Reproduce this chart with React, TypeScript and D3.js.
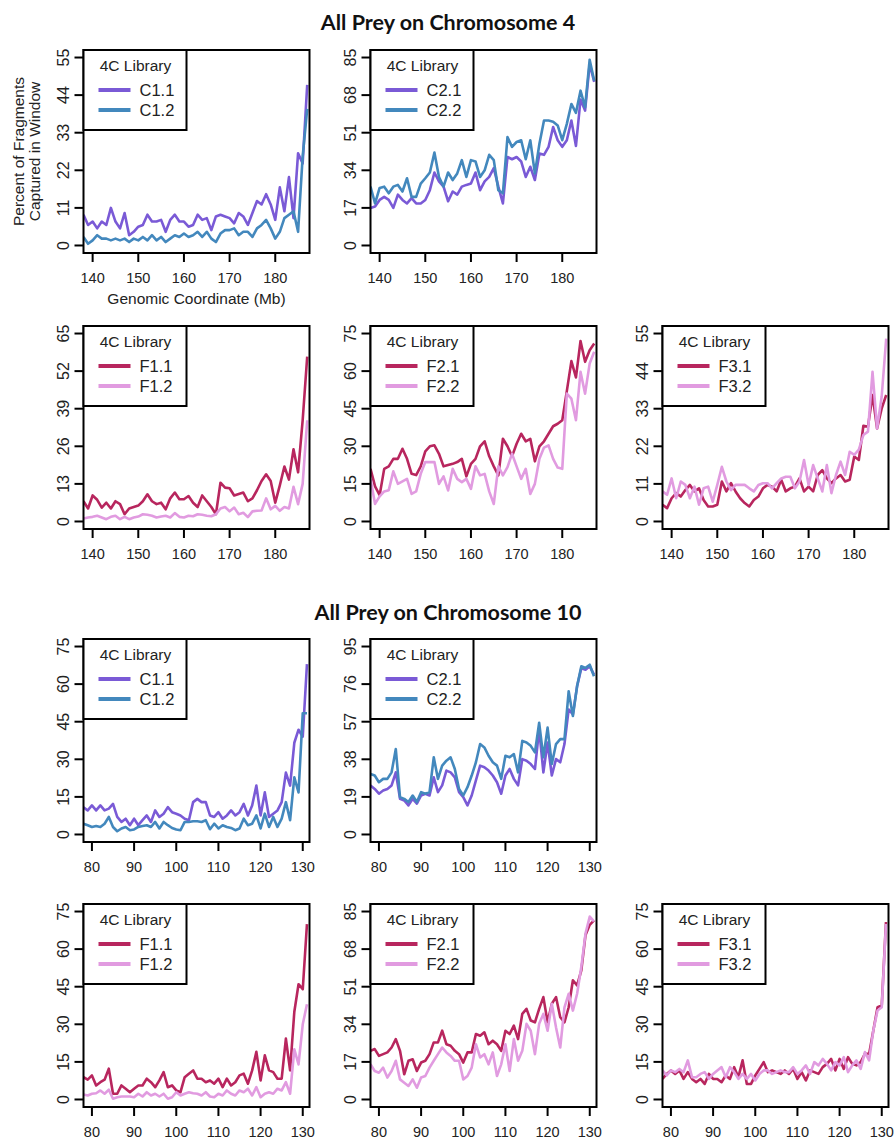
import * as d3 from 'd3'

// window positions (Mb) for each chromosome
const chr4Mb = d3.range(138, 188)
const chr10Mb = d3.range(78, 132)
const chr4Ticks = [140, 150, 160, 170, 180]
const chr10Ticks = [80, 90, 100, 110, 120, 130]

// chromosome 4, percent of fragments captured per window
const chr4C11 = [9, 6, 7, 5, 7, 6, 11, 7, 5, 9.5, 3, 4, 5.5, 6, 9, 7, 7, 7.5, 4, 7.5, 9, 7, 7, 5.5, 6, 9, 7.5, 8, 4.5, 8.5, 9, 8.5, 8, 6.5, 9.5, 8.5, 6, 9.5, 13, 12, 15, 12, 7.5, 17, 10, 20, 8, 27, 24, 47]
const chr4C12 = [2.5, 0.5, 1.5, 3, 2, 2, 1.5, 2, 1.5, 2, 1, 2, 1.5, 2.5, 1.5, 3, 1.5, 2.5, 1, 2, 3, 2.5, 3.5, 2.5, 3, 4, 2.5, 4, 2, 1, 3.5, 4.5, 4.5, 5, 3, 4, 4, 2.5, 5, 6, 7.5, 5, 2, 4, 8, 9, 10, 4, 26, 40]
const chr4C21 = [17, 17.6, 20.6, 22, 20.6, 17, 23, 20.6, 19, 21.4, 19, 19, 20.6, 25, 33, 29, 26.6, 20, 24.4, 23, 26.6, 27.4, 28, 33, 25, 29, 31, 35, 26.6, 19, 40, 39, 40, 38, 31, 35.6, 29.6, 41.6, 41, 44.6, 53.6, 47.6, 44.6, 47.6, 56.5, 45, 66, 61, 82, 74]
const chr4C22 = [26.6, 19, 26, 26.6, 23.6, 26.6, 27.4, 24.4, 30.4, 22, 22, 28, 30.4, 33, 42, 31, 26.6, 33, 29.6, 32.6, 38.6, 31, 38.6, 38, 31, 34, 41, 38.6, 25, 23.6, 49, 44.6, 46.8, 47.6, 39, 47.6, 32.6, 46, 56.5, 56.5, 56, 54.3, 47.6, 55, 64, 60, 70, 62.5, 84, 74.5]
const chr4F11 = [7, 4.5, 9, 7.5, 4.8, 6.5, 4.5, 7, 6, 2.5, 4.5, 5, 5.5, 7, 9.4, 7, 6, 6.5, 4.2, 8, 10, 7.7, 7.7, 8.8, 6.5, 5, 9, 7, 5, 2.5, 13.4, 11.7, 11.5, 9, 9.5, 10, 7, 8, 10.8, 14, 16.3, 14, 6.5, 12.5, 19, 14.5, 25, 17, 35, 57]
const chr4F12 = [1, 1.4, 1.6, 2, 1.4, 0.8, 1.6, 2, 0.8, 1.6, 0.8, 1.4, 1.7, 2.5, 2.3, 2, 1.4, 1.7, 2, 1.4, 2.9, 1.6, 1.4, 2, 1.8, 2.5, 2.3, 2, 1.8, 2.5, 4.5, 5, 3.5, 4.8, 2.5, 3, 1.5, 3.5, 3.7, 3.8, 8, 4.2, 5.4, 3.7, 5, 4.5, 12, 6, 13, 35]
const chr4F21 = [21, 14, 10.5, 21, 22, 25, 25, 29, 25, 19, 18.5, 22, 28, 30, 30.4, 27, 22, 22.5, 23, 23.7, 25, 18, 23, 25, 30, 32, 26, 22, 18.4, 33, 30, 26, 31, 35, 32, 33, 24, 30, 32, 35, 38, 39, 40.4, 52, 64, 57.5, 72, 63.7, 68.3, 71]
const chr4F22 = [17, 7, 10, 12, 12.5, 20, 15, 16, 17, 11, 12, 19, 23.7, 23.7, 23.7, 15, 18, 12.4, 21, 17, 15.7, 17, 13, 22, 18.4, 19, 12, 7, 22, 18.4, 21.7, 27, 22, 17, 21, 11, 15, 25, 29.5, 30.4, 25, 21.5, 21, 51, 49, 40.4, 59.7, 51, 63, 67.7]
const chr4F31 = [4.9, 3.9, 6.8, 8.3, 7.3, 9.2, 10.7, 8.8, 9.7, 6.3, 4.4, 4.4, 4.9, 11.7, 8.8, 11.2, 8.8, 6.8, 5.4, 4.4, 6.3, 7.3, 9.7, 10.7, 10.2, 8.8, 12.2, 8.8, 9.7, 10.2, 12.6, 8.8, 10.2, 8.8, 13.6, 15, 12.6, 11.2, 12.6, 13.6, 11.7, 12.2, 19, 18, 28, 27.7, 37, 27.2, 33, 37]
const chr4F32 = [8.8, 7.8, 12.6, 6.8, 11.7, 10.7, 6.8, 10.2, 4.9, 9.7, 10.2, 5.8, 10.7, 16, 11.7, 9.2, 10.7, 10.7, 10.7, 9.7, 8.8, 10.7, 11.2, 11.2, 9.7, 11.2, 12.6, 13.1, 13.1, 9.7, 11.7, 18, 10.7, 16.5, 12.6, 8.8, 16.5, 8.3, 13.6, 17.5, 13.6, 20.4, 19.5, 21, 25.3, 26.3, 43.8, 27.2, 36.5, 53.5]

// chromosome 10
const chr10C11 = [10.9, 9.6, 11.6, 9.6, 11.6, 9.6, 10.3, 12.2, 7, 5, 6.3, 3.7, 6.3, 3.7, 5.7, 7.6, 5, 9.6, 7, 8.3, 10.9, 8.9, 8.3, 7.6, 6.3, 5.7, 12.9, 14.2, 12.9, 12.9, 7.6, 7, 8.9, 6.3, 7.6, 9.6, 7.6, 8.9, 12.2, 7.6, 11.6, 19.5, 7.6, 16.8, 7, 8.3, 9.6, 12.9, 24.7, 19.5, 36.6, 41.8, 39, 68]
const chr10C12 = [4.3, 3.7, 3, 3.4, 3, 4.3, 7, 3, 1.3, 2.4, 3, 1.7, 2, 3, 3.4, 3.7, 3, 5, 2.4, 5, 3.7, 2.6, 2, 1.7, 5, 5, 5.3, 5.3, 5, 5.7, 2.1, 4.3, 2.4, 3.7, 3, 2.6, 1.7, 2.4, 6.3, 3.7, 4.3, 7.6, 2.4, 8.3, 3, 7, 3, 6.3, 12.9, 5.7, 22.8, 16.8, 48.4, 48.4]
const chr10C21 = [24.8, 23, 20.6, 22.2, 23, 24.8, 31.4, 18, 17.2, 14.7, 18, 15.6, 19.7, 20.6, 19.7, 28.9, 21.4, 24.8, 32.3, 31.4, 28.9, 21.4, 18.9, 14.7, 19.7, 27.3, 34.8, 34, 32.3, 29.8, 26.4, 20.6, 29.8, 33.1, 28.1, 24.8, 38.1, 37.3, 35.6, 33.1, 53.2, 31.4, 46.5, 29.8, 38.1, 36.5, 45.7, 63.2, 60.7, 75, 84, 83.3, 85, 80.8]
const chr10C22 = [30.6, 29.8, 26.4, 28.1, 28.1, 31.4, 43.2, 18.9, 18, 16.4, 19.7, 16.4, 21.4, 20.6, 21.4, 39, 28.1, 34.8, 37.3, 39, 33.1, 23, 19.7, 23.9, 29.8, 36.5, 45.7, 44, 39.8, 36.5, 34.8, 28.1, 39.8, 39, 40.6, 31.4, 47.3, 46.5, 44.8, 41.5, 56.5, 39, 54, 35.6, 45.7, 48.2, 48.2, 72.4, 59.9, 75, 85, 84.2, 85.8, 80]
const chr10F11 = [8.9, 7.9, 9.6, 5.6, 6.9, 7.9, 12.3, 2.3, 2.3, 5.6, 4.3, 2.9, 4.3, 5.6, 5.6, 8.3, 6.9, 4.9, 7.6, 10.9, 4.9, 5.6, 3.6, 2.9, 8.9, 10.3, 11.6, 8.3, 8.3, 6.9, 7.6, 6.3, 8.3, 4.9, 8.3, 5.6, 6.9, 9.6, 10.3, 6.3, 11.6, 19, 7.6, 17.6, 11.6, 10.9, 8.3, 8.3, 24.3, 11.6, 35, 46, 44, 70]
const chr10F12 = [2, 1.6, 2.3, 2.5, 3.6, 2.3, 3.9, 0.3, 0.9, 1.2, 1.2, 1.2, 0.9, 2.3, 1.2, 2.9, 1.6, 2.3, 1.2, 2.3, 0.3, 0.9, 2.9, 1.6, 2.3, 2.9, 2.5, 2.3, 1.6, 2.9, 1.2, 0.9, 2.3, 1.6, 3.6, 2.3, 1.6, 3.6, 2.9, 4.3, 1.6, 4.9, 0.9, 2.3, 2.9, 2.3, 4.3, 3.6, 6.9, 2.3, 20, 14, 30, 38]
const chr10F21 = [22, 22.8, 19.7, 20.5, 21.3, 23.5, 27.3, 22, 11.4, 17.5, 18.2, 12.9, 16.7, 17.5, 20.5, 25.8, 25.8, 31.1, 25, 24.3, 22, 20.5, 16.7, 21.3, 21.3, 29.6, 28.8, 30.4, 25, 26.6, 25, 22, 31.1, 29.6, 33.4, 27.3, 38.7, 41, 35.7, 34.9, 41, 46.3, 34.9, 43.3, 46.3, 37.2, 34.9, 41.7, 53.9, 51.6, 58.4, 74.4, 79, 81]
const chr10F22 = [15.9, 12.9, 12.1, 14.4, 9.9, 12.9, 17.5, 9.1, 7.6, 6.1, 9.1, 5.3, 9.9, 10.6, 14.4, 17.5, 20.5, 23.5, 21.3, 19.7, 17.5, 17.5, 9.1, 10.6, 14.4, 25, 19, 20.5, 15.9, 21.3, 10.6, 15.9, 25, 12.9, 27.3, 17.5, 22, 34.2, 31.1, 20.5, 34.2, 38.7, 31.1, 43.3, 32.6, 23.5, 41.7, 47.8, 40.2, 47.8, 60, 75.1, 82.7, 80.5]
const chr10F31 = [8.2, 10.2, 11.6, 10.2, 11.6, 8.2, 10.9, 8.2, 6.9, 8.2, 6.2, 10.2, 8.2, 8.2, 6.9, 9.6, 8.2, 12.9, 8.9, 15.6, 6.2, 6.2, 9.6, 12.2, 14.9, 10.9, 11.6, 10.9, 10.2, 11.6, 10.2, 12.2, 8.2, 10.9, 7.6, 11.6, 10.9, 10.2, 12.9, 14.2, 16.2, 11.6, 16.2, 12.2, 16.9, 14.2, 13.6, 14.9, 18.2, 18.2, 27.5, 36.8, 37.5, 70.8]
const chr10F32 = [11.6, 9.6, 11.6, 10.9, 12.2, 10.9, 15.6, 8.9, 8.9, 10.2, 10.9, 8.2, 10.2, 11.6, 12.9, 8.9, 12.9, 10.9, 8.2, 10.2, 8.2, 10.2, 7.6, 10.2, 11.6, 11.6, 10.2, 10.9, 11.6, 10.9, 10.9, 12.9, 10.2, 11.6, 13.6, 10.2, 14.9, 13.6, 16.2, 14.2, 11.6, 14.9, 13.6, 16.9, 10.9, 13.6, 15.6, 12.2, 18.9, 15.6, 27.5, 35.5, 36.8, 70]

const PURPLE = '#7a5ad6'
const BLUE = '#4388bd'
const CRIMSON = '#b8265e'
const ORCHID = '#e19be0'

const W = 896
const H = 1141
const COL_X = [83.5, 370.5, 662.5]
const ROW_Y = [50, 326, 639, 904]
const PW = 226
const PH = 203
const FONT = '"Liberation Sans", Arial, Helvetica, sans-serif'

interface PanelSpec {
  row: number
  col: number
  mb: number[]
  xDomain: [number, number]
  xTicks: number[]
  yMax: number
  labels: [string, string]
  values: [number[], number[]]
  colors: [string, string]
  axisTitles?: boolean
}

const chr4Dom: [number, number] = [138, 187.5]
const chr10Dom: [number, number] = [78, 131.6]

const panels: PanelSpec[] = [
  { row: 0, col: 0, mb: chr4Mb, xDomain: chr4Dom, xTicks: chr4Ticks, yMax: 55, labels: ['C1.1', 'C1.2'], values: [chr4C11, chr4C12], colors: [PURPLE, BLUE], axisTitles: true },
  { row: 0, col: 1, mb: chr4Mb, xDomain: chr4Dom, xTicks: chr4Ticks, yMax: 85, labels: ['C2.1', 'C2.2'], values: [chr4C21, chr4C22], colors: [PURPLE, BLUE] },
  { row: 1, col: 0, mb: chr4Mb, xDomain: chr4Dom, xTicks: chr4Ticks, yMax: 65, labels: ['F1.1', 'F1.2'], values: [chr4F11, chr4F12], colors: [CRIMSON, ORCHID] },
  { row: 1, col: 1, mb: chr4Mb, xDomain: chr4Dom, xTicks: chr4Ticks, yMax: 75, labels: ['F2.1', 'F2.2'], values: [chr4F21, chr4F22], colors: [CRIMSON, ORCHID] },
  { row: 1, col: 2, mb: chr4Mb, xDomain: chr4Dom, xTicks: chr4Ticks, yMax: 55, labels: ['F3.1', 'F3.2'], values: [chr4F31, chr4F32], colors: [CRIMSON, ORCHID] },
  { row: 2, col: 0, mb: chr10Mb, xDomain: chr10Dom, xTicks: chr10Ticks, yMax: 75, labels: ['C1.1', 'C1.2'], values: [chr10C11, chr10C12], colors: [PURPLE, BLUE] },
  { row: 2, col: 1, mb: chr10Mb, xDomain: chr10Dom, xTicks: chr10Ticks, yMax: 95, labels: ['C2.1', 'C2.2'], values: [chr10C21, chr10C22], colors: [PURPLE, BLUE] },
  { row: 3, col: 0, mb: chr10Mb, xDomain: chr10Dom, xTicks: chr10Ticks, yMax: 75, labels: ['F1.1', 'F1.2'], values: [chr10F11, chr10F12], colors: [CRIMSON, ORCHID] },
  { row: 3, col: 1, mb: chr10Mb, xDomain: chr10Dom, xTicks: chr10Ticks, yMax: 85, labels: ['F2.1', 'F2.2'], values: [chr10F21, chr10F22], colors: [CRIMSON, ORCHID] },
  { row: 3, col: 2, mb: chr10Mb, xDomain: chr10Dom, xTicks: chr10Ticks, yMax: 75, labels: ['F3.1', 'F3.2'], values: [chr10F31, chr10F32], colors: [CRIMSON, ORCHID] },
]

function Panel({ p, idx }: { p: PanelSpec; idx: number }) {
  const x0 = COL_X[p.col]
  const y0 = ROW_Y[p.row]
  const x = d3.scaleLinear(p.xDomain, [x0, x0 + PW])
  // R style 4% padding on the y range
  const y = d3.scaleLinear([-0.04 * p.yMax, 1.04 * p.yMax], [y0 + PH, y0])
  const yTicks = d3.range(6).map((i) => (p.yMax * i) / 5)
  const line = d3
    .line<number>()
    .x((_, i) => x(p.mb[i]))
    .y((d) => y(d))
  const clipId = `clip-${idx}`

  return (
    <g>
      <clipPath id={clipId}>
        <rect x={x0} y={y0} width={PW} height={PH} />
      </clipPath>
      <g clipPath={`url(#${clipId})`}>
        {[0, 1].map((s) => (
          <path
            key={s}
            d={line(p.values[s]) ?? ''}
            fill="none"
            stroke={p.colors[s]}
            strokeWidth={2.6}
            strokeLinejoin="round"
          />
        ))}
      </g>
      <rect x={x0} y={y0} width={PW} height={PH} fill="none" stroke="#000" strokeWidth={2} />

      {/* y axis */}
      {yTicks.map((t) => (
        <g key={`y${t}`}>
          <line x1={x0 - 9} x2={x0} y1={y(t)} y2={y(t)} stroke="#000" strokeWidth={2} />
          <text
            transform={`translate(${x0 - 15},${y(t)}) rotate(-90)`}
            textAnchor="middle"
            fontSize={16}
            fontFamily={FONT}
            fill="#222"
          >
            {t}
          </text>
        </g>
      ))}

      {/* x axis */}
      {p.xTicks.map((t) => (
        <g key={`x${t}`}>
          <line x1={x(t)} x2={x(t)} y1={y0 + PH} y2={y0 + PH + 9} stroke="#000" strokeWidth={2} />
          <text x={x(t)} y={y0 + PH + 30} textAnchor="middle" fontSize={14.5} fontFamily={FONT} fill="#222">
            {t}
          </text>
        </g>
      ))}

      {/* legend */}
      <rect x={x0} y={y0} width={103} height={80} fill="#fff" stroke="#000" strokeWidth={2} />
      <text x={x0 + 52} y={y0 + 21} textAnchor="middle" fontSize={15.5} fontFamily={FONT} fill="#222">
        4C Library
      </text>
      {[0, 1].map((s) => (
        <g key={`l${s}`}>
          <line
            x1={x0 + 15}
            x2={x0 + 47}
            y1={y0 + 40 + s * 20}
            y2={y0 + 40 + s * 20}
            stroke={p.colors[s]}
            strokeWidth={4}
          />
          <text x={x0 + 56} y={y0 + 46 + s * 20} fontSize={16.5} fontFamily={FONT} fill="#222">
            {p.labels[s]}
          </text>
        </g>
      ))}

      {p.axisTitles && (
        <g fontFamily={FONT} fontSize={15.5} fill="#222">
          <text transform={`translate(24,${y0 + PH / 2}) rotate(-90)`} textAnchor="middle">
            Percent of Fragments
          </text>
          <text transform={`translate(40,${y0 + PH / 2}) rotate(-90)`} textAnchor="middle">
            Captured in Window
          </text>
          <text x={x0 + PW / 2} y={y0 + PH + 51} textAnchor="middle">
            Genomic Coordinate (Mb)
          </text>
        </g>
      )}
    </g>
  )
}

export default function App() {
  return (
    <svg
      width={W}
      height={H}
      viewBox={`0 0 ${W} ${H}`}
      style={{ position: 'absolute', left: 0, top: 0, background: '#fff' }}
    >
      <rect width={W} height={H} fill="#fff" />
      <text x={W / 2} y={30} textAnchor="middle" fontSize={21.5} fontWeight="bold" fontFamily='Lato, "Open Sans", sans-serif' fill="#111">
        All Prey on Chromosome 4
      </text>
      <text x={W / 2} y={620} textAnchor="middle" fontSize={21.5} fontWeight="bold" fontFamily='Lato, "Open Sans", sans-serif' fill="#111">
        All Prey on Chromosome 10
      </text>
      {panels.map((p, i) => (
        <Panel key={i} p={p} idx={i} />
      ))}
    </svg>
  )
}
